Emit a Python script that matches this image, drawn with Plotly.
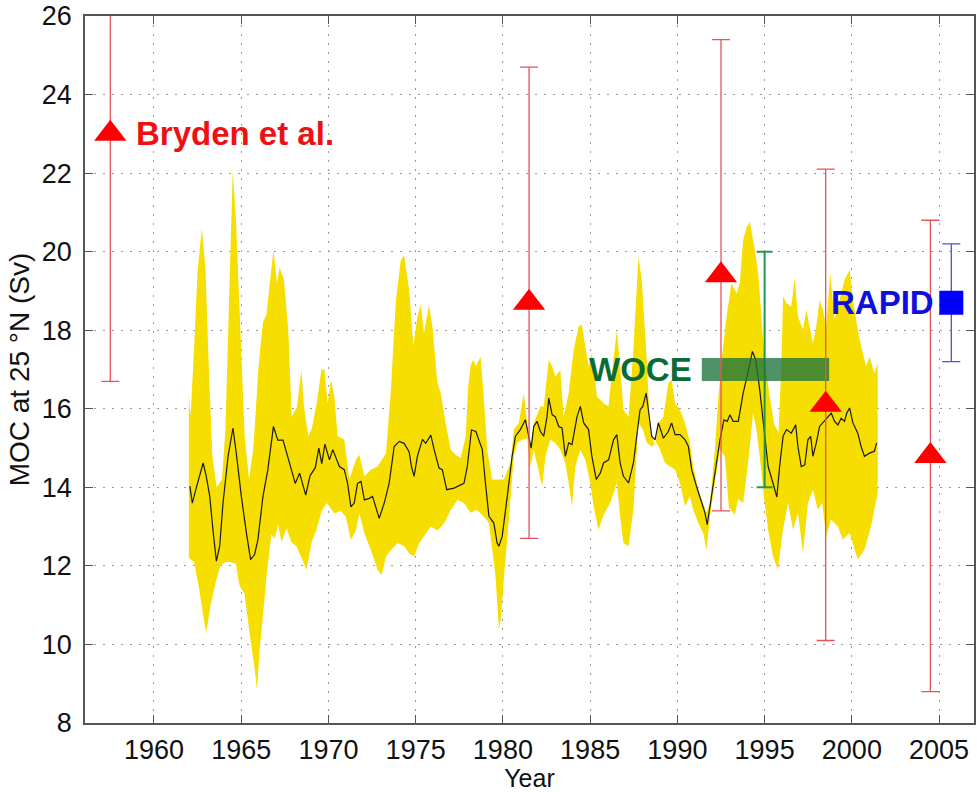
import plotly.graph_objects as go

# ---------------- data ----------------
upper_years = [1962.0, 1962.1, 1962.3, 1962.5, 1962.75, 1962.95, 1963.15, 1963.35, 1963.6, 1963.9,
               1964.1, 1964.3, 1964.52, 1964.7, 1964.95, 1965.2, 1965.45, 1965.7, 1966.0, 1966.25,
               1966.45, 1966.7, 1966.85, 1967.05, 1967.2, 1967.45, 1967.7, 1967.9, 1968.2, 1968.45,
               1968.6, 1968.85, 1969.05, 1969.35, 1969.6, 1969.77, 1969.96, 1970.15, 1970.34, 1970.53,
               1970.91, 1971.2, 1971.58, 1971.77, 1972.06, 1972.44, 1972.82, 1973.3, 1973.58, 1973.87,
               1974.15, 1974.34, 1974.63, 1974.87, 1975.1, 1975.29, 1975.48, 1975.77, 1975.96, 1976.25,
               1976.44, 1976.72, 1977.01, 1977.29, 1977.58, 1977.87, 1978.0, 1978.15, 1978.3, 1978.45,
               1978.72, 1978.9, 1979.1, 1979.39, 1979.67, 1980.05, 1980.44, 1980.63, 1980.91, 1981.2,
               1981.39, 1981.58, 1981.77, 1982.15, 1982.34, 1982.63, 1982.82, 1983.01, 1983.29, 1983.48,
               1983.77, 1984.06, 1984.34, 1984.53, 1984.72, 1984.91, 1985.1, 1985.39, 1985.77, 1986.05,
               1986.25, 1986.53, 1986.72, 1986.91, 1987.2, 1987.48, 1987.77, 1987.96, 1988.21, 1988.44,
               1988.72, 1988.91, 1989.2, 1989.48, 1989.67, 1989.87, 1990.15, 1990.44, 1990.72, 1990.91,
               1991.2, 1991.48, 1991.67, 1991.87, 1992.15, 1992.34, 1992.55, 1992.82, 1993.1, 1993.39,
               1993.58, 1993.77, 1993.96, 1994.15, 1994.44, 1994.63, 1994.82, 1995.0, 1995.3, 1995.55,
               1995.8, 1995.95, 1996.06, 1996.25, 1996.53, 1996.72, 1996.91, 1997.2, 1997.39, 1997.54,
               1997.77, 1997.96, 1998.15, 1998.34, 1998.53, 1998.76, 1999.01, 1999.29, 1999.58, 1999.87,
               2000.06, 2000.34, 2000.53, 2000.82, 2001.01, 2001.29, 2001.48]
upper_vals = [16.4, 15.8, 17.5, 19.5, 20.6, 19.6, 17.0, 14.8, 14.0, 14.2,
              15.5, 19.0, 22.1, 20.8, 18.0, 15.3, 14.2, 15.0, 17.1, 18.2,
              18.4, 19.4, 20.05, 19.2, 19.6, 19.3, 18.0, 15.8, 16.05, 17.0,
              16.05, 15.3, 15.5, 16.2, 17.0, 17.0, 16.15, 16.74, 16.32, 15.3,
              15.22, 14.2, 14.7, 14.83, 14.28, 14.45, 14.53, 14.87, 16.48, 18.77,
              19.79, 19.9, 19.03, 17.59, 18.35, 18.65, 17.93, 18.65, 18.1, 16.65,
              16.4, 15.63, 14.96, 14.83, 14.75, 15.3, 16.5, 17.1, 17.25, 17.08,
              17.33, 16.31, 14.96, 14.2, 14.2, 14.2, 14.62, 15.47, 15.64, 16.4,
              15.64, 15.04, 15.64, 16.06, 16.06, 17.25, 17.08, 16.82, 16.99, 15.8,
              16.4, 17.5, 18.1, 18.14, 17.59, 17.08, 17.42, 16.31, 16.14, 16.06,
              16.9, 18.01, 17.08, 15.97, 15.8, 17.5, 19.88, 19.28, 17.5, 15.47,
              15.04, 15.64, 15.8, 16.65, 16.74, 16.14, 15.97, 15.64, 15.13, 14.53,
              13.94, 13.6, 13.35, 13.6, 14.96, 16.23, 17.3, 18.35, 19.2, 18.94,
              19.2, 20.3, 20.6, 20.77, 20.05, 19.45, 18.35, 17.25, 16.3, 15.6,
              15.4, 17.0, 18.86, 18.69, 18.6, 19.33, 18.35, 18.01, 18.52, 18.18,
              17.67, 18.1, 18.77, 18.52, 18.1, 19.45, 18.27, 18.77, 19.28, 19.54,
              18.77, 18.01, 17.59, 17.08, 17.33, 16.91, 17.16]

lower_years = [1962.0, 1962.3, 1962.6, 1962.8, 1963.0, 1963.25, 1963.55, 1963.8, 1964.1, 1964.4,
               1964.7, 1964.9, 1965.19, 1965.48, 1965.77, 1965.9, 1966.06, 1966.25, 1966.48, 1966.73,
               1966.92, 1967.12, 1967.31, 1967.6, 1967.88, 1968.17, 1968.46, 1968.75, 1969.04, 1969.33,
               1969.62, 1969.9, 1970.34, 1970.72, 1971.0, 1971.29, 1971.58, 1971.77, 1972.06, 1972.44,
               1972.82, 1973.05, 1973.3, 1973.58, 1973.96, 1974.34, 1974.63, 1974.91, 1975.2, 1975.48,
               1975.87, 1976.25, 1976.63, 1977.01, 1977.39, 1977.77, 1978.15, 1978.5, 1978.9, 1979.2,
               1979.39, 1979.58, 1979.77, 1979.9, 1980.05, 1980.25, 1980.44, 1980.63, 1980.82, 1981.1,
               1981.39, 1981.58, 1981.77, 1982.0, 1982.25, 1982.44, 1982.72, 1983.01, 1983.29, 1983.58,
               1983.77, 1983.96, 1984.15, 1984.44, 1984.72, 1985.01, 1985.2, 1985.48, 1985.77, 1986.15,
               1986.53, 1986.72, 1986.91, 1987.2, 1987.48, 1987.77, 1988.02, 1988.25, 1988.53, 1988.82,
               1989.01, 1989.29, 1989.58, 1989.87, 1990.15, 1990.44, 1990.72, 1990.91, 1991.2, 1991.48,
               1991.67, 1991.87, 1992.15, 1992.44, 1992.72, 1992.95, 1993.29, 1993.48, 1993.77, 1994.05,
               1994.34, 1994.53, 1994.72, 1994.95, 1995.2, 1995.48, 1995.76, 1996.05, 1996.34, 1996.63,
               1996.91, 1997.2, 1997.48, 1997.77, 1998.05, 1998.3, 1998.53, 1998.8, 1999.2, 1999.48,
               1999.87, 2000.34, 2000.72, 2001.1, 2001.48]
lower_vals = [12.2, 12.1, 11.4, 10.8, 10.3, 11.0, 11.6, 12.0, 12.1, 12.1,
              12.05, 11.5, 11.3, 10.3, 9.4, 8.85, 9.85, 10.8, 11.85, 12.8,
              12.7, 13.05, 12.6, 12.95, 12.6, 12.5, 12.2, 11.9, 12.6, 12.95,
              13.4, 13.6, 13.34, 13.4, 13.25, 12.66, 12.9, 13.34, 12.83, 12.4,
              11.9, 11.77, 12.24, 12.4, 12.58, 12.5, 12.32, 12.24, 12.58, 12.75,
              13.0, 12.9, 13.08, 13.42, 13.68, 13.6, 13.35, 13.43, 13.26, 13.09,
              12.41, 11.73, 10.38, 10.72, 11.65, 12.67, 13.6, 14.79, 15.13, 15.21,
              15.25, 14.53, 14.96, 14.53, 14.02, 14.79, 15.21, 15.13, 14.96, 14.62,
              14.11, 13.52, 14.53, 14.96, 14.7, 14.11, 13.52, 12.92, 13.3, 13.6,
              14.11, 13.26, 12.58, 12.5, 13.43, 15.64, 15.47, 15.13, 15.04, 15.13,
              14.96, 14.62, 14.53, 14.45, 14.11, 13.52, 13.77, 13.43, 13.09, 12.84,
              12.41, 13.26, 14.11, 14.96, 14.79, 13.5, 13.3, 13.7, 13.6, 14.62,
              15.89, 15.47, 14.79, 13.8, 12.92, 12.24, 11.9, 12.92, 13.6, 12.92,
              13.35, 12.33, 13.6, 13.94, 13.43, 13.6, 12.75, 13.18, 13.0, 12.67,
              12.84, 12.16, 12.41, 13.0, 13.85]

mean_years = [1962.06, 1962.2, 1962.4, 1962.63, 1962.82, 1963.0, 1963.2, 1963.4, 1963.58, 1963.77,
              1963.96, 1964.25, 1964.53, 1964.72, 1965.01, 1965.3, 1965.54, 1965.77, 1965.96, 1966.25,
              1966.53, 1966.85, 1967.1, 1967.4, 1967.75, 1968.1, 1968.35, 1968.7, 1968.95, 1969.25,
              1969.45, 1969.62, 1969.8, 1970.06, 1970.25, 1970.63, 1970.91, 1971.1, 1971.29, 1971.48,
              1971.67, 1971.87, 1972.06, 1972.34, 1972.53, 1972.91, 1973.2, 1973.48, 1973.77, 1974.06,
              1974.34, 1974.63, 1974.76, 1974.91, 1975.1, 1975.39, 1975.58, 1975.87, 1976.06, 1976.34,
              1976.53, 1976.78, 1977.2, 1977.58, 1977.77, 1977.96, 1978.2, 1978.45, 1978.82, 1979.0,
              1979.2, 1979.48, 1979.67, 1979.77, 1979.96, 1980.25, 1980.53, 1980.72, 1981.0, 1981.29,
              1981.48, 1981.62, 1981.77, 1981.96, 1982.15, 1982.34, 1982.53, 1982.63, 1982.82, 1983.0,
              1983.2, 1983.39, 1983.58, 1983.77, 1983.96, 1984.25, 1984.44, 1984.63, 1984.91, 1985.1,
              1985.35, 1985.58, 1985.77, 1986.06, 1986.34, 1986.53, 1986.72, 1986.91, 1987.2, 1987.48,
              1987.67, 1987.86, 1988.02, 1988.21, 1988.34, 1988.53, 1988.72, 1988.91, 1989.2, 1989.48,
              1989.67, 1989.87, 1990.15, 1990.44, 1990.63, 1990.82, 1991.1, 1991.39, 1991.58, 1991.71,
              1991.87, 1992.15, 1992.44, 1992.67, 1992.86, 1993.01, 1993.2, 1993.49, 1993.77, 1994.06,
              1994.3, 1994.49, 1994.72, 1994.95, 1995.2, 1995.48, 1995.7, 1995.86, 1996.06, 1996.25,
              1996.53, 1996.78, 1996.91, 1997.1, 1997.3, 1997.48, 1997.64, 1997.77, 1997.96, 1998.15,
              1998.34, 1998.63, 1998.82, 1999.01, 1999.2, 1999.39, 1999.58, 1999.71, 1999.87, 2000.06,
              2000.34, 2000.53, 2000.72, 2001.01, 2001.29, 2001.42]
mean_vals = [14.03, 13.6, 13.94, 14.28, 14.62, 14.28, 13.77, 12.84, 12.12, 12.5,
             13.6, 14.79, 15.51, 14.87, 13.77, 12.84, 12.16, 12.29, 12.67, 13.77,
             14.45, 15.55, 15.2, 15.2, 14.62, 14.1, 14.36, 13.8, 14.3, 14.5,
             15.0, 14.6, 15.1, 14.7, 14.96, 14.53, 14.45, 14.1, 13.5, 13.6,
             14.1, 14.15, 13.68, 13.72, 13.77, 13.21, 13.6, 14.1, 15.04, 15.17,
             15.12, 14.9, 14.53, 14.28, 14.79, 15.22, 15.12, 15.33, 14.96, 14.49,
             14.45, 13.94, 13.98, 14.07, 14.1, 14.53, 15.46, 15.42, 14.96, 14.11,
             13.26, 13.09, 12.58, 12.5, 12.75, 13.77, 14.79, 15.3, 15.47, 15.72,
             15.3, 15.0, 15.55, 15.68, 15.42, 15.3, 15.8, 16.27, 15.85, 15.8,
             15.55, 15.51, 14.79, 15.13, 15.09, 15.8, 16.06, 15.64, 15.47, 14.79,
             14.2, 14.36, 14.62, 14.7, 15.21, 15.34, 14.62, 14.28, 14.11, 14.62,
             15.3, 15.97, 16.06, 16.4, 15.97, 15.3, 15.21, 15.64, 15.25, 15.42,
             15.64, 15.34, 15.34, 15.21, 15.04, 14.45, 14.02, 13.6, 13.35, 13.05,
             13.52, 14.28, 15.21, 15.72, 15.68, 15.85, 15.68, 15.68, 16.4, 16.95,
             17.46, 17.25, 16.48, 15.55, 14.53, 14.11, 13.75, 14.53, 15.3, 15.47,
             15.38, 15.59, 15.04, 14.53, 14.57, 15.21, 15.3, 14.79, 15.13, 15.55,
             15.64, 15.8, 15.89, 15.68, 15.59, 15.76, 15.68, 15.89, 16.02, 15.64,
             15.38, 15.04, 14.79, 14.87, 14.92, 15.13]

bryden_years = [1957.5, 1981.5, 1992.5, 1998.5, 2004.5]
bryden_moc = [23.0, 18.7, 19.4, 16.1, 14.8]
bryden_err = [6.3, 6.0, 6.0, 6.0, 6.0]

rapid_year = [2005.7]
rapid_moc = [18.7]
rapid_err = [1.5]

woce_period = [1991.4, 1998.7]
woce_moc = 17.0
woce_err_year = [1995.0]
woce_err = [3.0]

x_ticks = [1960, 1965, 1970, 1975, 1980, 1985, 1990, 1995, 2000, 2005]
y_ticks = [8, 10, 12, 14, 16, 18, 20, 22, 24, 26]

YELLOW = "rgb(245,222,0)"
FONT = "Liberation Sans"

fig = go.Figure()

# ensemble spread band
fig.add_trace(go.Scatter(
    x=upper_years + lower_years[::-1],
    y=upper_vals + lower_vals[::-1],
    fill="toself", fillcolor=YELLOW, mode="lines",
    line=dict(width=0, color=YELLOW), hoverinfo="skip", showlegend=False))

# ensemble mean
fig.add_trace(go.Scatter(
    x=mean_years, y=mean_vals, mode="lines",
    line=dict(color="#1a1a1a", width=1.2),
    showlegend=False))

# WOCE error bar
fig.add_trace(go.Scatter(
    x=woce_err_year, y=[woce_moc], mode="markers",
    marker=dict(size=1, color="rgba(0,0,0,0)"),
    error_y=dict(type="data", array=woce_err, color="#1f9a4a", thickness=2, width=8),
    showlegend=False))

# WOCE period bar
fig.add_trace(go.Scatter(
    x=woce_period, y=[woce_moc, woce_moc], mode="lines",
    line=dict(color="rgba(30,115,60,0.78)", width=23),
    showlegend=False))

# Bryden et al. estimates
fig.add_trace(go.Scatter(
    x=bryden_years, y=bryden_moc, mode="markers",
    marker=dict(symbol="triangle-up", size=28, color="#ff0000", line=dict(width=0)),
    error_y=dict(type="data", array=bryden_err, color="#e8525a", thickness=1.3, width=9),
    showlegend=False))

# RAPID
fig.add_trace(go.Scatter(
    x=rapid_year, y=rapid_moc, mode="markers",
    marker=dict(symbol="square", size=24, color="#0000ff", line=dict(width=0)),
    error_y=dict(type="data", array=rapid_err, color="#5050e0", thickness=1.3, width=9),
    showlegend=False))

# labels
fig.add_annotation(x=1958.85, y=23.0, text="<b>Bryden et al.</b>", showarrow=False,
                   xanchor="left", yanchor="middle", font=dict(family=FONT, size=33, color="#ee1111"))
fig.add_annotation(x=2004.85, y=18.7, text="<b>RAPID</b>", showarrow=False,
                   xanchor="right", yanchor="middle", font=dict(family=FONT, size=33, color="#1010dd"))
fig.add_annotation(x=1990.95, y=17.0, text="<b>WOCE</b>", showarrow=False,
                   xanchor="right", yanchor="middle", font=dict(family=FONT, size=33, color="#0b6b36"))

axis_common = dict(
    showline=True, linecolor="#555555", linewidth=1.5, mirror="ticks",
    ticks="inside", ticklen=8, tickwidth=1.3, tickcolor="#555555",
    showgrid=True, gridcolor="#9a9a9a", griddash="1.5px,7.5px", gridwidth=1.2,
    zeroline=False, tickfont=dict(family=FONT, size=27, color="#111111"),
)

fig.update_xaxes(range=[1956.05, 2007.0], tickvals=x_ticks, ticktext=[str(t) for t in x_ticks],
                 title=dict(text="Year", font=dict(family=FONT, size=25, color="#111111"), standoff=0),
                 ticklabelstandoff=2, **axis_common)
fig.update_yaxes(range=[8, 26], tickvals=y_ticks, ticktext=[str(t) for t in y_ticks],
                 title=dict(text="MOC at 25 °N (Sv)", font=dict(family=FONT, size=28, color="#111111"), standoff=4),
                 ticklabelstandoff=6, **axis_common)

fig.update_layout(
    width=977, height=792,
    margin=dict(l=85, r=1, t=16, b=69),
    paper_bgcolor="white", plot_bgcolor="white",
    showlegend=False,
)

fig.write_html("out.html")
